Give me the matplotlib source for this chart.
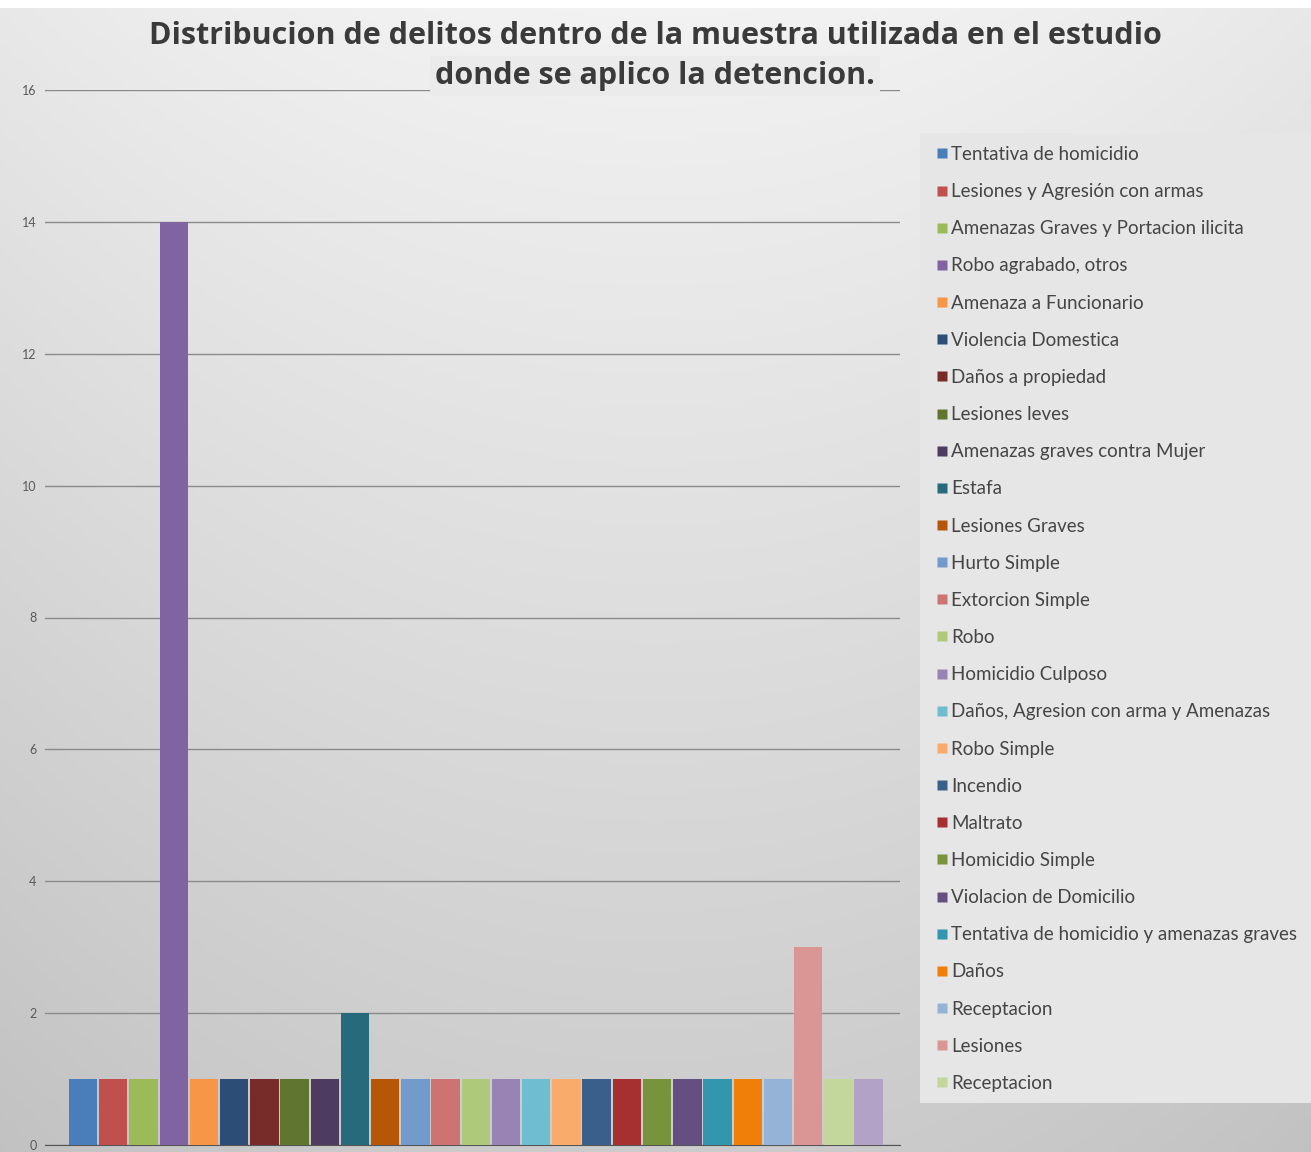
import numpy as np
import matplotlib
matplotlib.use("Agg")
import matplotlib.pyplot as plt
from matplotlib.lines import Line2D
from matplotlib.patches import Rectangle

# ---- data ----
categories = [
    "Tentativa de homicidio",
    "Lesiones y Agresión con armas",
    "Amenazas Graves y Portacion ilicita",
    "Robo agrabado, otros",
    "Amenaza a Funcionario",
    "Violencia Domestica",
    "Daños a propiedad",
    "Lesiones leves",
    "Amenazas graves contra Mujer",
    "Estafa",
    "Lesiones Graves",
    "Hurto Simple",
    "Extorcion Simple",
    "Robo",
    "Homicidio Culposo",
    "Daños, Agresion con arma y Amenazas",
    "Robo Simple",
    "Incendio",
    "Maltrato",
    "Homicidio Simple",
    "Violacion de Domicilio",
    "Tentativa de homicidio y amenazas graves",
    "Daños",
    "Receptacion",
    "Lesiones",
    "Receptacion",
    "",
]
values = [1, 1, 1, 14, 1, 1, 1, 1, 1, 2, 1, 1, 1, 1, 1, 1, 1, 1, 1, 1, 1, 1, 1, 1, 3, 1, 1]
colors = [
    "#4A7EBB", "#C0504D", "#9BBB59", "#8064A2", "#F79646",
    "#2C4D75", "#772C2A", "#5F7530", "#4D3B62", "#276A7C",
    "#B65708", "#729ACA", "#CD7371", "#AFC97A", "#9983B5",
    "#6FBDD1", "#F9AB6B", "#3A5F8B", "#A5302F", "#77933C",
    "#654F80", "#3296AE", "#F07F09", "#95B3D7", "#D99694",
    "#C3D69B", "#B3A2C7",
]
yticks = [0, 2, 4, 6, 8, 10, 12, 14, 16]
title_line1 = "Distribucion de delitos dentro de la muestra utilizada en el estudio"
title_line2 = "donde se aplico la detencion."

W, H = 1311, 1152
fig = plt.figure(figsize=(W / 100, H / 100), dpi=100, facecolor="white")

# background gradient
bg = fig.add_axes([0, 0, 1, 1 - 8 / H], zorder=-10)
yy = np.linspace(0, 1, 300)[:, None]
xx = np.linspace(-1, 1, 400)[None, :]
grad = 0.95 - 0.15 * yy - 0.04 * xx ** 2
bg.imshow(np.dstack([grad] * 3), aspect="auto", extent=[0, 1, 0, 1], origin="upper")
bg.set_xlim(0, 1)
bg.set_ylim(0, 1)
bg.set_axis_off()
# legend panel
bg.add_patch(Rectangle((920 / W, 1 - 1103 / H), 1 - 920 / W, (1103 - 133) / H,
                       facecolor="#e6e6e6", edgecolor="none", zorder=2,
                       transform=fig.transFigure))

ax = fig.add_axes([45 / W, 7 / H, (900 - 45) / W, (1145 - 90) / H])
ax.set_facecolor("none")
n = len(values)
x = np.arange(n)
for i in range(n):
    ax.bar(x[i], values[i], width=0.94, color=colors[i], zorder=3)
ax.set_xlim(-1.26, 27.04)
ax.set_ylim(0, 16)
ax.set_yticks(yticks)
ax.set_yticklabels([str(t) for t in yticks], fontsize=9, color="#595959", family="Lato")
ax.yaxis.grid(True, color="#8a8a8a", linewidth=1.0, zorder=0)
ax.set_xticks([])
ax.tick_params(axis="y", length=0, pad=6)
for s in ["top", "right", "left"]:
    ax.spines[s].set_visible(False)
ax.spines["bottom"].set_color("#555555")

fig.text(655 / W, 1 - 36 / H, title_line1, ha="center", va="center", fontsize=22,
         fontweight="bold", family="Open Sans", color="#3a3a3a")
fig.text(655 / W, 1 - 76 / H, title_line2, ha="center", va="center", fontsize=22,
         fontweight="bold", family="Open Sans", color="#3a3a3a",
         bbox=dict(boxstyle="square,pad=0.15", facecolor="#ebebeb", edgecolor="none"))

handles = [Line2D([], [], linestyle="none", marker="s", markersize=7,
                  markerfacecolor=colors[i], markeredgecolor="none")
           for i in range(26)]
leg = fig.legend(handles, categories[:26], loc="upper left",
                 bbox_to_anchor=(922 / W, 1 - 131 / H), frameon=False,
                 handlelength=0.55, handletextpad=0.2,
                 borderpad=0.3, labelspacing=1.075, prop=dict(family="Lato", size=13.5))
for t in leg.get_texts():
    t.set_color("#454545")

fig.savefig("out.png", dpi=100)
